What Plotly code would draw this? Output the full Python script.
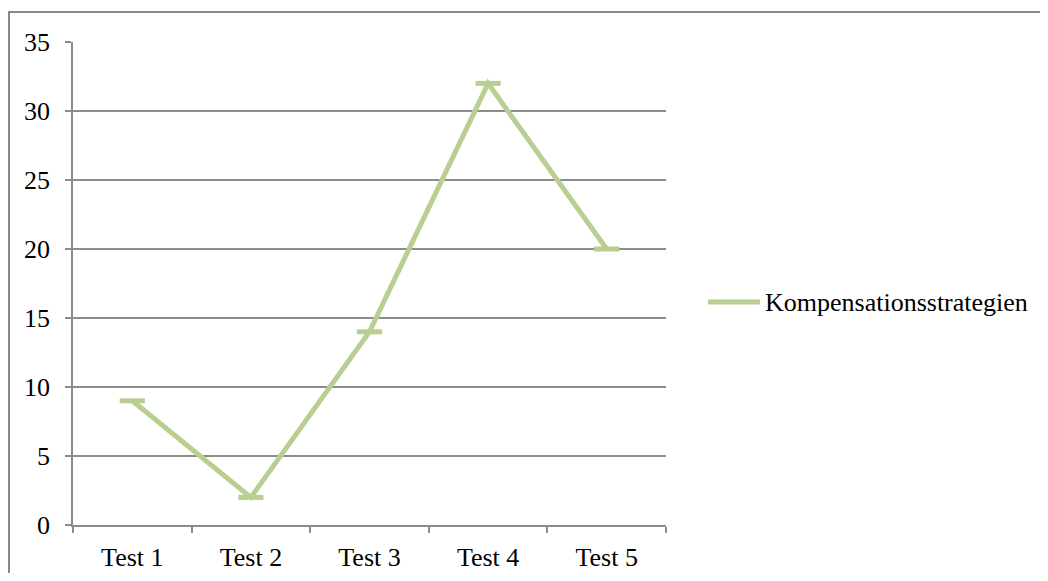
import plotly.graph_objects as go

categories = ["Test 1", "Test 2", "Test 3", "Test 4", "Test 5"]
values = [9, 2, 14, 32, 20]
series_name = "Kompensationsstrategien"
y_ticks = [0, 5, 10, 15, 20, 25, 30, 35]

OFF = 8  # page body margin
W, H = 1048 - 2 * OFF, 581 - 2 * OFF
L, R, T, B = 73 - OFF, 666 - OFF, 42 - OFF, 525 - OFF
line_color = "#B8CF91"
grid_color = "#8C8C8C"
font = dict(family="Liberation Serif, Times New Roman, serif", size=26, color="black")

def px_x(px):
    return (px - OFF - L) / (R - L)

def px_y(py):
    return (B - (py - OFF)) / (B - T)

fig = go.Figure()
fig.add_trace(go.Scatter(
    x=categories, y=values, name=series_name, mode="lines+markers",
    line=dict(color=line_color, width=5),
    marker=dict(symbol="line-ew", size=18, line=dict(color=line_color, width=5)),
    showlegend=False,
))

fig.update_layout(
    width=W, height=H,
    margin=dict(l=L, r=W - R, t=T, b=H - B, autoexpand=False),
    paper_bgcolor="white", plot_bgcolor="white",
    font=font,
    xaxis=dict(
        type="category", range=[-0.5, 4.5], tickson="boundaries",
        ticks="outside", ticklen=6, tickcolor=grid_color, tickwidth=1.5,
        showline=True, linecolor=grid_color, linewidth=1.5,
        showgrid=False, ticklabelstandoff=8, tickfont=font, automargin=False,
    ),
    yaxis=dict(
        range=[0, 35], tickvals=y_ticks, ticktext=[str(v) for v in y_ticks],
        ticks="outside", ticklen=6, tickcolor=grid_color, tickwidth=1.5,
        showline=True, linecolor=grid_color, linewidth=1.5,
        showgrid=True, gridcolor=grid_color, gridwidth=1.5,
        zeroline=False, ticklabelstandoff=10, tickfont=font, automargin=False,
    ),
    shapes=[
        dict(type="line", xref="paper", yref="paper",
             x0=px_x(9), x1=px_x(9), y0=px_y(12), y1=px_y(581),
             line=dict(color="#888888", width=2)),
        dict(type="line", xref="paper", yref="paper",
             x0=px_x(8), x1=px_x(1048), y0=px_y(12), y1=px_y(12),
             line=dict(color="#888888", width=2)),
        dict(type="line", xref="paper", yref="paper",
             x0=px_x(708), x1=px_x(760), y0=px_y(302), y1=px_y(302),
             line=dict(color=line_color, width=5)),
    ],
    annotations=[
        dict(text=series_name, xref="paper", yref="paper",
             x=px_x(763), y=px_y(302), xanchor="left", yanchor="middle",
             showarrow=False, font=font),
    ],
)

fig.write_html("out.html")
